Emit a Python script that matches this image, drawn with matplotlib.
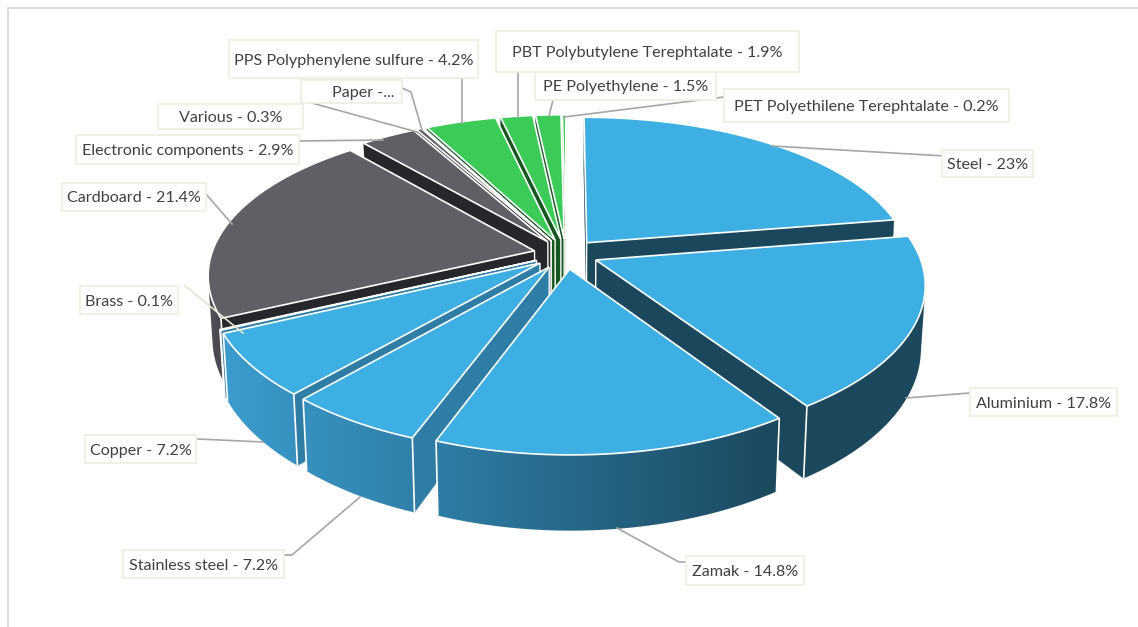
import numpy as np
import matplotlib
matplotlib.use("Agg")
import matplotlib.pyplot as plt
from matplotlib.patches import Polygon, Rectangle

plt.rcParams['font.family'] = ['Lato', 'DejaVu Sans']

# ---- data (clockwise from 12 o'clock) ----
categories = ["Steel", "Aluminium", "Zamak", "Stainless steel", "Copper", "Brass", "Cardboard",
              "Electronic components", "Various", "Paper", "PPS Polyphenylene sulfure",
              "PBT Polybutylene Terephtalate", "PE Polyethylene", "PET Polyethilene Terephtalate"]
values = [23, 17.8, 14.8, 7.2, 7.2, 0.1, 21.4, 2.9, 0.3, 0.1, 4.2, 1.9, 1.5, 0.2]
groups = ["metal"] * 6 + ["other"] * 4 + ["plastic"] * 4
value_text = ["23%", "17.8%", "14.8%", "7.2%", "7.2%", "0.1%", "21.4%", "2.9%", "0.3%", None,
              "4.2%", "1.9%", "1.5%", "0.2%"]

# ---- label layout (pixels): box x0, x1, y0, y1 ----
boxes = [(942, 1033, 150, 177), (970, 1117, 388, 416), (686, 804, 556, 585), (123, 284, 550, 578),
         (85, 196, 435, 463), (80, 178, 286, 314), (62, 206, 183, 211), (76, 299, 135, 164),
         (158, 303, 104, 129), (301, 402, 80, 103), (229, 478, 40, 78), (496, 799, 31, 72),
         (535, 716, 72, 100), (724, 1009, 89, 122)]
text_shift = [0, 0, 0, 0, 0, 0, 0, 0, 0, 12, 0, 0, 0, 0]
leaders = [[(945, 156), (772, 146)], [(970, 393), (906, 398)], [(686, 562), (679, 562), (617, 528)],
           [(284, 555), (292, 555), (360, 497)], [(198, 439), (263, 442)], [(185, 286), (243, 333)],
           [(206, 194), (232, 224)], [(299, 141), (383, 140)], [(301, 100), (417, 132)],
           [(402, 88), (411, 92), (422, 130)], [(462, 78), (462, 123)], [(518, 72), (518, 117)],
           [(553, 100), (549, 116)], [(724, 97), (564, 117)]]

# ---- projection ----
CX, CY = 566, 254
RX, RY = 323, 149.6
KX, KY, M = 0.15, 0.165, 0.012
HEIGHT = 62
EXPLODE = 0.1
# small angular correction of the projected pie, degrees
WARP_AT = [0, 80, 143, 195, 220, 246, 321, 332, 360]
WARP_BY = [0, 0, 3, 5.5, 1, -1, -1.5, 0, 0]

def warp(deg):
    return deg + np.interp(deg, WARP_AT, WARP_BY)

def project(x, y, z=0.0):
    sx = 1 / (1 + KX * y + M * z)
    sy = 1 / (1 + KY * y)
    return CX + RX * x * sx, CY - RY * y * sy + HEIGHT * z * sy

TOP = {"metal": "#3DAFE3", "other": "#5E6066", "plastic": "#3CCB58"}
EDGE_WALL = {"metal": "#1B475C", "other": "#25272A", "plastic": "#14571F"}
LEFT_WALL = {"metal": "#2E7DA5", "other": "#25272A", "plastic": "#14571F"}

def arc_colour(group, x):
    if group == "metal":
        xs = [230, 440, 780]
        rgb = [np.interp(x, xs, c) for c in ([60, 46, 27], [155, 125, 72], [205, 165, 93])]
    elif group == "other":
        rgb = [np.interp(x, [210, 240], c) for c in ([80, 60], [80, 60], [86, 66])]
    else:
        rgb = [20, 87, 31]
    return tuple(v / 255 for v in rgb)

def area(pts):
    p = np.array(pts)
    return 0.5 * np.sum(p[:, 0] * np.roll(p[:, 1], -1) - np.roll(p[:, 0], -1) * p[:, 1])

fig = plt.figure(figsize=(11.38, 6.27), dpi=100)
ax = fig.add_axes([0, 0, 1, 1])
ax.axis("off")

# frame
ax.plot([8, 8, 1138], [627, 8, 8], color="#DCDCDC", lw=1.4, solid_joinstyle="miter", zorder=0)

total = sum(values)
edges = np.concatenate([[0], np.cumsum(values)]) / total * 360
order = sorted(range(len(values)),
               key=lambda i: -np.cos(np.radians(warp((edges[i] + edges[i + 1]) / 2))))

zo = 1
for i in order:
    a0, a1 = warp(edges[i]), warp(edges[i + 1])
    mid = np.radians(warp((edges[i] + edges[i + 1]) / 2))
    ox, oy = EXPLODE * np.sin(mid), EXPLODE * np.cos(mid)
    th = np.radians(np.linspace(a0, a1, max(3, int(a1 - a0) * 2 + 2)))
    xs, ys = ox + np.sin(th), oy + np.cos(th)
    top = [project(x, y) for x, y in zip(xs, ys)]
    bot = [project(x, y, 1) for x, y in zip(xs, ys)]
    apex_t, apex_b = project(ox, oy), project(ox, oy, 1)
    g = groups[i]

    # radial walls
    start_wall = [apex_t, top[0], bot[0], apex_b]
    end_wall = [top[-1], apex_t, apex_b, bot[-1]]
    start_vis, end_vis = area(start_wall) < 0, area(end_wall) < 0
    for q, shown in ((start_wall, start_vis), (end_wall, end_vis)):
        if shown:
            mx = np.mean([p[0] for p in q])
            col = EDGE_WALL[g] if mx > CX else LEFT_WALL[g]
            ax.add_patch(Polygon(q, closed=True, fc=col, ec=col, lw=0.3, zorder=zo))
    # outer wall: one smooth gradient clipped to the visible part of the rim
    vis = [j for j in range(len(top) - 1) if area([top[j], top[j + 1], bot[j + 1], bot[j]]) < 0]
    if vis:
        j0, j1 = vis[0], vis[-1] + 1
        outline = top[j0:j1 + 1] + bot[j0:j1 + 1][::-1]
        patch = Polygon(outline, closed=True, fc="none", ec="none", transform=ax.transData)
        ax.add_patch(patch)
        px = [p[0] for p in outline]
        py = [p[1] for p in outline]
        xgrid = np.arange(int(min(px)) - 2, int(max(px)) + 3)
        grad = np.array([[arc_colour(g, x) for x in xgrid]])
        im = ax.imshow(grad, extent=(xgrid[0], xgrid[-1], max(py) + 2, min(py) - 2), aspect="auto",
                       interpolation="bilinear", zorder=zo)
        im.set_clip_path(patch)
    # white vertical edges at the corners of the visible rim
    if vis and vis[0] == 0:
        ax.plot([top[0][0], bot[0][0]], [top[0][1], bot[0][1]], color="white", lw=1.2, zorder=zo,
                solid_capstyle="butt")
    if vis and vis[-1] == len(top) - 2:
        ax.plot([top[-1][0], bot[-1][0]], [top[-1][1], bot[-1][1]], color="white", lw=1.2, zorder=zo,
                solid_capstyle="butt")
    if start_vis or end_vis:
        ax.plot([apex_t[0], apex_b[0]], [apex_t[1], apex_b[1]], color="white", lw=1.0, zorder=zo,
                solid_capstyle="butt")
    # top face
    ax.add_patch(Polygon([apex_t] + top, closed=True, fc=TOP[g], ec="white", lw=1.2,
                         joinstyle="miter", zorder=zo))
    zo += 1

ax.set_xlim(0, 1138)
ax.set_ylim(627, 0)
ax.set_aspect("auto")

# labels
for i, name in enumerate(categories):
    ln = leaders[i]
    lc = "#E6E4D2" if name == "Brass" else "#A6A6A6"
    ax.plot([p[0] for p in ln], [p[1] for p in ln], color=lc, lw=1.2, zorder=50)
for i, name in enumerate(categories):
    x0, x1, y0, y1 = boxes[i]
    ax.add_patch(Rectangle((x0, y0), x1 - x0, y1 - y0, fc="white", ec="#EFEDE3", lw=1.2, zorder=51 + i))
    txt = f"{name} - {value_text[i]}" if value_text[i] else f"{name} -..."
    ax.text((x0 + x1) / 2 + text_shift[i], (y0 + y1) / 2, txt, ha="center", va="center_baseline",
            fontsize=11.6, color="#404040", zorder=51 + i)

fig.savefig("out.png", dpi=100, facecolor="white")
